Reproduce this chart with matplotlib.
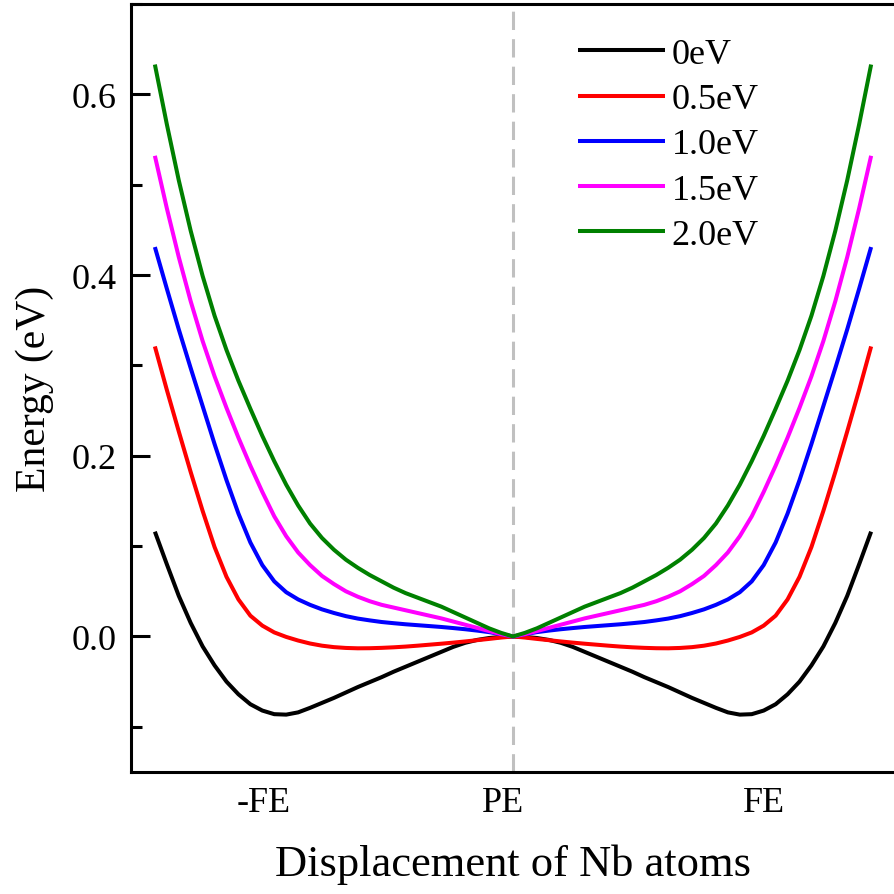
import matplotlib
matplotlib.use("Agg")
import matplotlib.pyplot as plt
from matplotlib.ticker import MultipleLocator

plt.rcParams['font.family'] = ['Liberation Serif', 'DejaVu Serif']

# displacement (FE = +/-1, PE = 0)
x = [-1.5, -1.45, -1.4, -1.35, -1.3, -1.25, -1.2, -1.15, -1.1, -1.05,
     -1.0, -0.95, -0.9, -0.85, -0.8, -0.75, -0.7, -0.65, -0.6, -0.55,
     -0.5, -0.45, -0.4, -0.35, -0.3, -0.25, -0.2, -0.15, -0.1, -0.05,
     0.0,
     0.05, 0.1, 0.15, 0.2, 0.25, 0.3, 0.35, 0.4, 0.45, 0.5,
     0.55, 0.6, 0.65, 0.7, 0.75, 0.8, 0.85, 0.9, 0.95, 1.0,
     1.05, 1.1, 1.15, 1.2, 1.25, 1.3, 1.35, 1.4, 1.45, 1.5]

e_0 = [0.116, 0.080, 0.045, 0.015, -0.011, -0.032, -0.050, -0.064, -0.075, -0.082,
       -0.086, -0.0865, -0.084, -0.079, -0.0735, -0.068, -0.062, -0.056, -0.0505, -0.045,
       -0.039, -0.0335, -0.028, -0.0225, -0.017, -0.0115, -0.007, -0.0038, -0.0017, -0.0005,
       0.0,
       -0.0005, -0.0017, -0.0038, -0.007, -0.0115, -0.017, -0.0225, -0.028, -0.0335, -0.039,
       -0.045, -0.0505, -0.056, -0.062, -0.068, -0.0735, -0.079, -0.084, -0.0865, -0.086,
       -0.082, -0.075, -0.064, -0.050, -0.032, -0.011, 0.015, 0.045, 0.080, 0.116]

e_05 = [0.321, 0.273, 0.227, 0.182, 0.139, 0.099, 0.066, 0.041, 0.023, 0.012,
        0.0045, -0.0005, -0.0045, -0.0078, -0.0102, -0.0118, -0.0127, -0.0131, -0.0130, -0.0126,
        -0.0120, -0.0112, -0.0102, -0.0091, -0.0080, -0.0068, -0.0055, -0.0041, -0.0027, -0.0012,
        0.0,
        -0.0012, -0.0027, -0.0041, -0.0055, -0.0068, -0.0080, -0.0091, -0.0102, -0.0112, -0.0120,
        -0.0126, -0.0130, -0.0131, -0.0127, -0.0118, -0.0102, -0.0078, -0.0045, -0.0005, 0.0045,
        0.012, 0.023, 0.041, 0.066, 0.099, 0.139, 0.182, 0.227, 0.273, 0.321]

e_10 = [0.431, 0.385, 0.340, 0.297, 0.255, 0.213, 0.173, 0.136, 0.104, 0.079,
        0.061, 0.049, 0.041, 0.035, 0.030, 0.026, 0.0225, 0.0198, 0.0178, 0.016,
        0.0147, 0.0135, 0.0125, 0.0115, 0.0105, 0.0093, 0.008, 0.0065, 0.0048, 0.0025,
        0.0,
        0.0025, 0.0048, 0.0065, 0.008, 0.0093, 0.0105, 0.0115, 0.0125, 0.0135, 0.0147,
        0.016, 0.0178, 0.0198, 0.0225, 0.026, 0.030, 0.035, 0.041, 0.049, 0.061,
        0.079, 0.104, 0.136, 0.173, 0.213, 0.255, 0.297, 0.340, 0.385, 0.431]

e_15 = [0.532, 0.474, 0.420, 0.371, 0.327, 0.288, 0.253, 0.220, 0.189, 0.160,
        0.133, 0.111, 0.093, 0.079, 0.067, 0.058, 0.050, 0.044, 0.039, 0.035,
        0.032, 0.029, 0.026, 0.023, 0.020, 0.0165, 0.013, 0.0095, 0.006, 0.0025,
        0.0,
        0.0025, 0.006, 0.0095, 0.013, 0.0165, 0.020, 0.023, 0.026, 0.029, 0.032,
        0.035, 0.039, 0.044, 0.050, 0.058, 0.067, 0.079, 0.093, 0.111, 0.133,
        0.160, 0.189, 0.220, 0.253, 0.288, 0.327, 0.371, 0.420, 0.474, 0.532]

e_20 = [0.633, 0.567, 0.505, 0.449, 0.399, 0.355, 0.317, 0.283, 0.252, 0.222,
        0.194, 0.168, 0.145, 0.125, 0.109, 0.096, 0.085, 0.076, 0.068, 0.061,
        0.054, 0.048, 0.043, 0.038, 0.033, 0.027, 0.021, 0.015, 0.009, 0.004,
        0.0,
        0.004, 0.009, 0.015, 0.021, 0.027, 0.033, 0.038, 0.043, 0.048, 0.054,
        0.061, 0.068, 0.076, 0.085, 0.096, 0.109, 0.125, 0.145, 0.168, 0.194,
        0.222, 0.252, 0.283, 0.317, 0.355, 0.399, 0.449, 0.505, 0.567, 0.633]

series = [e_0, e_05, e_10, e_15, e_20]
labels = ['0eV', '0.5eV', '1.0eV', '1.5eV', '2.0eV']
colors = ['#000000', '#ff0000', '#0000ff', '#ff00ff', '#008000']

tick_labels = ['-FE', 'PE', 'FE']
tick_pos = [-1.045, -0.04, 1.05]

fig = plt.figure(figsize=(8.95, 8.95), dpi=100)
ax = fig.add_axes([131/895, 122/895, 764/895, 768/895])

ax.axvline(0, color='#c0c0c0', lw=2.2, dashes=(6, 3), zorder=1)

for y, lab, c in zip(series, labels, colors):
    ax.plot(x, y, color=c, lw=2.9, label=lab, zorder=3,
            solid_capstyle='butt', solid_joinstyle='round')

ax.set_xlim(-1.6, 1.6)
ax.set_ylim(-0.15, 0.7)

ax.set_yticks([0.0, 0.2, 0.4, 0.6])
ax.set_yticklabels(['0.0', '0.2', '0.4', '0.6'])
ax.yaxis.set_minor_locator(MultipleLocator(0.1))
ax.tick_params(axis='y', which='major', direction='in', length=14, width=2.2,
               labelsize=26, pad=10)
ax.tick_params(axis='y', which='minor', direction='in', length=8, width=2.2)
ax.tick_params(axis='y', which='both', right=False)

ax.set_xticks(tick_pos)
ax.set_xticklabels(tick_labels)
ax.tick_params(axis='x', which='both', length=0, labelsize=26, pad=10, top=False)

for s in ['left', 'bottom', 'top']:
    ax.spines[s].set_linewidth(2.2)
ax.spines['right'].set_visible(False)

ax.set_xlabel('Displacement of Nb atoms', fontsize=32, labelpad=18)
ax.set_ylabel('Energy (eV)', fontsize=30, labelpad=13)

leg = ax.legend(loc='upper left', bbox_to_anchor=(0.585, 0.956), frameon=False,
                fontsize=26, handlelength=2.4, handletextpad=0.2,
                labelspacing=0.33, borderpad=0, borderaxespad=0)
for h in leg.get_lines():
    h.set_linewidth(2.9)

fig.savefig('out.png', dpi=100, facecolor='white')
